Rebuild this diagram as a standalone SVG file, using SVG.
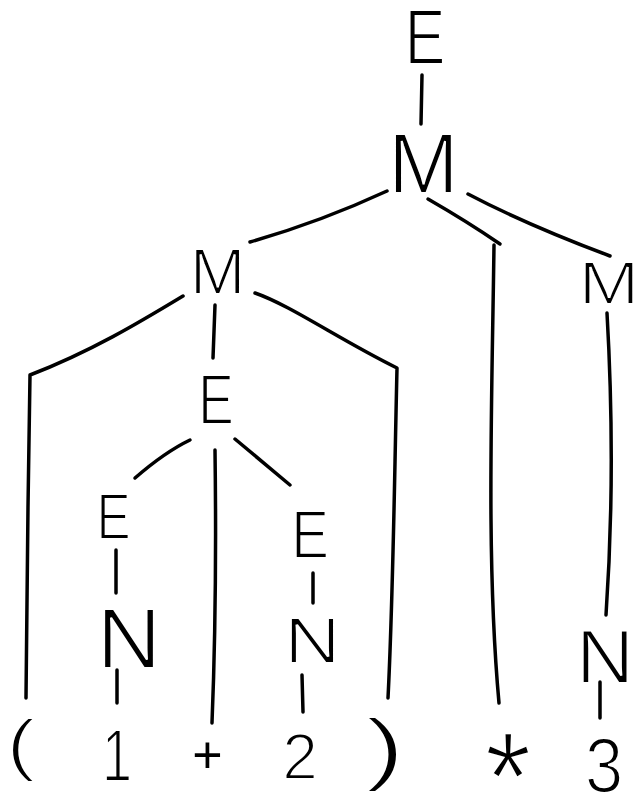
<svg xmlns="http://www.w3.org/2000/svg" width="641" height="797" viewBox="0 0 641 797">
<style>
.lbl { font-family: "Liberation Sans", Arial, sans-serif; fill: #000; stroke: #fff; stroke-width: 2; text-anchor: middle; }
.sym { font-family: "Liberation Sans", Arial, sans-serif; fill: #000; text-anchor: middle; }
.edge { fill: none; stroke: #000; stroke-width: 3.5; stroke-linecap: round; stroke-linejoin: round; }
</style>
<rect width="641" height="797" fill="#fff"/>
<g id="connectors">
  <path class="edge" d="M422,75 L421,124"/>
  <path class="edge" d="M387,191 Q320,222 250,242"/>
  <path class="edge" d="M428,199 Q468,222 500,244"/>
  <path class="edge" d="M494,245 C492,400 486,560 499,703"/>
  <path class="edge" d="M468,194 Q525,224 610,256"/>
  <path class="edge" d="M607,313 Q616,470 606,615"/>
  <path class="edge" d="M600,682 L600,718"/>
  <path class="edge" d="M183,296 C140,322 90,352 30,375 C28,480 27,600 26,698"/>
  <path class="edge" d="M215,305 L213,358"/>
  <path class="edge" d="M255,293 C290,305 340,340 397,368 C394,500 393,600 388,698"/>
  <path class="edge" d="M190,440 Q165,452 135,478"/>
  <path class="edge" d="M215,450 Q217,600 212,723"/>
  <path class="edge" d="M235,439 L290,485"/>
  <path class="edge" d="M116,550 L116,593"/>
  <path class="edge" d="M117,670 L117,703"/>
  <path class="edge" d="M313,573 L313,603"/>
  <path class="edge" d="M302,675 L303,712"/>
</g>
<g id="n-E-top"><text class="lbl" font-size="78" transform="translate(425,64) scale(0.78,1)">E</text></g>
<g id="n-M-top"><text class="lbl" font-size="85" transform="translate(423.5,193)">M</text></g>
<g id="n-M-left"><text class="lbl" font-size="65" transform="translate(217.5,294) scale(1.03,1)">M</text></g>
<g id="n-M-right"><text class="lbl" font-size="61" transform="translate(609,304) scale(1.2,1)">M</text></g>
<g id="n-E-mid"><text class="lbl" font-size="71" transform="translate(216,424) scale(0.75,1)">E</text></g>
<g id="n-E-left"><text class="lbl" font-size="64" transform="translate(113.5,539) scale(0.8,1)">E</text></g>
<g id="n-E-right"><text class="lbl" font-size="69" transform="translate(310,558) scale(0.82,1)">E</text></g>
<g id="n-N-left"><text class="lbl" font-size="85" transform="translate(129,668) scale(1.05,1)">N</text></g>
<g id="n-N-mid"><text class="lbl" font-size="64" transform="translate(312.5,663) scale(1.22,1)">N</text></g>
<g id="n-N-right"><text class="lbl" font-size="76" transform="translate(605,683) scale(1.06,1)">N</text></g>
<g id="t-lparen"><text class="lbl" font-size="68" transform="translate(21,768) scale(1.3,1)">(</text></g>
<g id="t-1"><text class="lbl" font-size="75" transform="translate(117,781) scale(0.72,1)">1</text></g>
<g id="t-plus"><text class="sym" font-size="52" transform="translate(207.5,773)">+</text></g>
<g id="t-2"><text class="lbl" font-size="64" transform="translate(300,779)">2</text></g>
<g id="t-rparen"><text class="lbl" font-size="80" transform="translate(385,775) scale(1.5,1)">)</text></g>
<g id="t-star"><text class="lbl" font-size="100" transform="translate(508,729) scale(1.2,1.28)" y="71.6">*</text></g>
<g id="t-3"><text class="lbl" font-size="77" transform="translate(604,792) scale(0.89,1)">3</text></g>
</svg>
